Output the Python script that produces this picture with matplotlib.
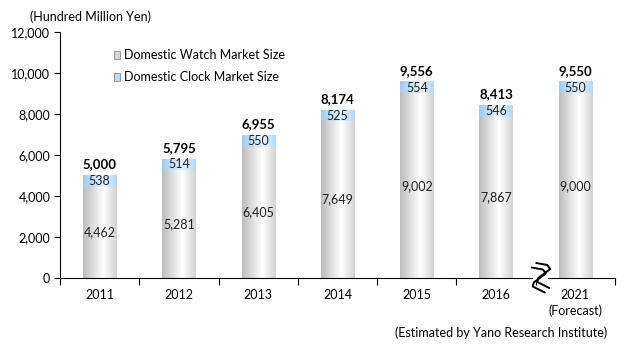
import numpy as np
import matplotlib.pyplot as plt
from matplotlib.patches import Rectangle

years = ['2011', '2012', '2013', '2014', '2015', '2016', '2021\n(Forecast)']
watch = [4462, 5281, 6405, 7649, 9002, 7867, 9000]
clock = [538, 514, 550, 525, 554, 546, 550]
totals = [5000, 5795, 6955, 8174, 9556, 8413, 9550]

plt.rcParams['font.family'] = ['Lato', 'DejaVu Sans']

fig = plt.figure(figsize=(6.29, 3.58), dpi=100)
ax = fig.add_axes([60 / 629, 80 / 358, 555 / 629, 246 / 358])

x = np.arange(len(years))
w = 0.42

# horizontal gradient for a "cylinder" look
t = np.linspace(0, 1, 64)
shade = 1 - np.abs(t - 0.6) / 0.6
grey = np.zeros((1, 64, 3))
blue = np.zeros((1, 64, 3))
for i, s in enumerate(shade):
    grey[0, i] = np.array([0.74, 0.74, 0.74]) + (1 - 0.74) * s
    blue[0, i] = np.array([0.62, 0.80, 0.95]) + (np.array([0.90, 0.95, 1.0]) - np.array([0.62, 0.80, 0.95])) * s

for xi, wv, cv, tv in zip(x, watch, clock, totals):
    ax.imshow(grey, extent=[xi - w / 2, xi + w / 2, 0, wv], aspect='auto', zorder=2)
    ax.imshow(blue, extent=[xi - w / 2, xi + w / 2, wv, wv + cv], aspect='auto', zorder=2)
    ax.text(xi, wv / 2, f'{wv:,}', ha='center', va='center', fontsize=9, color='#222222', zorder=3)
    ax.text(xi, wv + cv / 2, f'{cv:,}', ha='center', va='center', fontsize=9, color='#222222', zorder=3)
    ax.text(xi, tv + 250, f'{tv:,}', ha='center', va='bottom', fontsize=9.5, fontweight='bold', zorder=3)

ax.set_xlim(-0.5, len(years) - 0.5)
ax.set_ylim(0, 12000)
ax.set_yticks(np.arange(0, 12001, 2000))
ax.set_yticklabels([f'{v:,}' for v in range(0, 12001, 2000)], fontsize=9)
ax.set_xticks(x)
ax.set_xticklabels(years, fontsize=9, linespacing=1.3)
ax.set_xticks(np.arange(-0.5, len(years)), minor=True)
ax.tick_params(axis='x', which='major', length=0, pad=8)
ax.tick_params(axis='x', which='minor', length=5, direction='out', width=0.8)
ax.tick_params(axis='y', length=4, direction='out', width=0.8, pad=3)
ax.spines['top'].set_visible(False)
ax.spines['right'].set_visible(False)

# legend
px = 1 / 79.3
py = 12000 / 246
lx = (117 - 60) * px - 0.5
for yy, col, lab in [(10880, (0.84, 0.84, 0.84), 'Domestic Watch Market Size'),
                     (9800, (0.72, 0.86, 0.97), 'Domestic Clock Market Size')]:
    ax.add_patch(Rectangle((lx - 3 * px, yy - 4 * py), 6 * px, 8 * py, facecolor=col,
                           edgecolor='#8a8a8a', linewidth=0.6, zorder=3))
    ax.text(lx + 7 * px, yy, lab, va='center', fontsize=9, zorder=3)

# axis break symbol between 2016 and 2021
bx0 = 5.57
zz = np.array([[-7, 13], [4, 11], [7, 7], [-5, -2], [-6, -6], [6, -12]], dtype=float)
ax.add_patch(Rectangle((bx0 - 8 * px, -2 * py), 15 * px, 4 * py, facecolor='white',
                       edgecolor='none', clip_on=False, zorder=4))
for dx, dy in ((2, 2), (-2.5, -2.5)):
    xs = bx0 + (zz[:, 0] + dx) * px
    ys = (zz[:, 1] + dy) * py
    ax.plot(xs, ys, color='black', lw=1.4, clip_on=False, zorder=5,
            solid_joinstyle='round', solid_capstyle='round')

fig.text(30 / 629, 1 - 17 / 358, '(Hundred Million Yen)', fontsize=9, va='center')
fig.text(607 / 629, 1 - 333 / 358, '(Estimated by Yano Research Institute)', fontsize=9,
         ha='right', va='center')

fig.savefig('out.png', dpi=100)
